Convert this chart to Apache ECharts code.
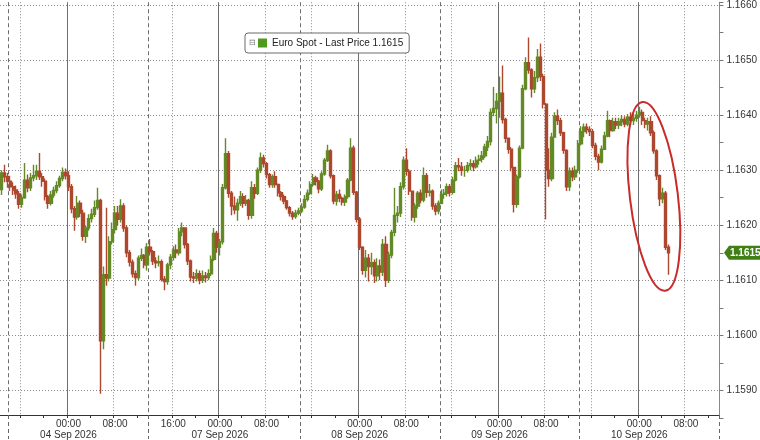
<!DOCTYPE html>
<html><head><meta charset="utf-8">
<script src="https://cdn.jsdelivr.net/npm/echarts@6/dist/echarts.min.js"></script>
<style>html,body{margin:0;padding:0;background:#fff}#c{width:760px;height:440px}</style>
</head><body><div id="c"></div>
<script>
const seriesName = 'Euro Spot - Last Price';
// trading sessions (30-minute bars), weekend gap removed
const sessions = [
  ['2026-09-03 12:30', '2026-09-04 13:30'],
  ['2026-09-06 12:00', '2026-09-10 13:30']
];
const tickLabels = ['2026-09-04 00:00','2026-09-04 08:00','2026-09-06 16:00','2026-09-07 00:00','2026-09-07 08:00',
  '2026-09-08 00:00','2026-09-08 08:00','2026-09-09 00:00','2026-09-09 08:00','2026-09-10 00:00','2026-09-10 08:00'];
const sessionMarks = ['2026-09-03 14:00','2026-09-06 12:00','2026-09-07 14:00','2026-09-08 14:00','2026-09-09 14:00'];
const monthNames = ['Jan','Feb','Mar','Apr','May','Jun','Jul','Aug','Sep','Oct','Nov','Dec'];
const firstOpen = 1.16265;
const closes = [
1.16295,1.16288,1.16280,1.16270,1.16264,1.16257,1.16238,1.16250,1.16282,1.16268,
1.16286,1.16290,1.16298,1.16288,1.16280,1.16252,1.16240,1.16255,1.16263,1.16272,
1.16285,1.16296,1.16290,1.16270,1.16230,1.16215,1.16240,1.16222,1.16180,1.16195,
1.16212,1.16220,1.16232,1.16245,1.15990,1.16110,1.16104,1.16170,1.16192,1.16222,
1.16211,1.16235,1.16195,1.16150,1.16133,1.16112,1.16105,1.16140,1.16145,1.16128,
1.16160,1.16152,1.16135,1.16132,1.16134,1.16102,1.16098,1.16128,1.16142,1.16155,
1.16150,1.16188,1.16195,1.16165,1.16135,1.16106,1.16104,1.16112,1.16100,1.16108,
1.16105,1.16112,1.16138,1.16185,1.16160,1.16170,1.16268,1.16330,1.16258,1.16235,
1.16228,1.16240,1.16252,1.16240,1.16245,1.16218,1.16268,1.16258,1.16300,1.16322,
1.16312,1.16292,1.16274,1.16288,1.16274,1.16259,1.16252,1.16244,1.16232,1.16222,
1.16216,1.16222,1.16226,1.16233,1.16247,1.16258,1.16274,1.16286,1.16280,1.16266,
1.16293,1.16318,1.16335,1.16290,1.16244,1.16256,1.16249,1.16242,1.16252,1.16282,
1.16340,1.16260,1.16211,1.16160,1.16118,1.16140,1.16125,1.16132,1.16108,1.16126,
1.16115,1.16165,1.16100,1.16146,1.16187,1.16218,1.16222,1.16270,1.16318,1.16298,
1.16262,1.16215,1.16235,1.16258,1.16246,1.16290,1.16260,1.16262,1.16235,1.16226,
1.16240,1.16256,1.16258,1.16270,1.16260,1.16282,1.16308,1.16306,1.16300,1.16300,
1.16308,1.16312,1.16306,1.16318,1.16320,1.16326,1.16342,1.16352,1.16405,1.16412,
1.16425,1.16440,1.16392,1.16358,1.16338,1.16305,1.16238,1.16288,1.16340,1.16448,
1.16495,1.16482,1.16448,1.16468,1.16505,1.16470,1.16420,1.16300,1.16285,1.16360,
1.16398,1.16390,1.16368,1.16336,1.16270,1.16298,1.16288,1.16300,1.16348,1.16370,
1.16378,1.16374,1.16370,1.16345,1.16325,1.16315,1.16338,1.16362,1.16390,1.16372,
1.16388,1.16382,1.16388,1.16392,1.16384,1.16396,1.16390,1.16394,1.16400,1.16405,
1.16390,1.16384,1.16388,1.16368,1.16335,1.16290,1.16248,1.16258,1.16160,1.16150
];
const highs = [
1.16300,1.16310,1.16295,1.16290,1.16278,1.16272,1.16262,1.16256,1.16313,1.16292,
1.16295,1.16310,1.16310,1.16331,1.16295,1.16285,1.16255,1.16262,1.16270,1.16280,
1.16290,1.16305,1.16303,1.16298,1.16275,1.16235,1.16253,1.16245,1.16228,1.16200,
1.16220,1.16230,1.16245,1.16268,1.16248,1.16125,1.16232,1.16180,1.16205,1.16235,
1.16235,1.16247,1.16240,1.16200,1.16155,1.16138,1.16118,1.16145,1.16158,1.16148,
1.16168,1.16175,1.16155,1.16142,1.16145,1.16138,1.16108,1.16132,1.16148,1.16162,
1.16165,1.16195,1.16205,1.16195,1.16168,1.16138,1.16115,1.16120,1.16118,1.16118,
1.16115,1.16120,1.16145,1.16195,1.16190,1.16175,1.16275,1.16358,1.16335,1.16262,
1.16252,1.16248,1.16262,1.16258,1.16255,1.16248,1.16280,1.16275,1.16305,1.16332,
1.16328,1.16315,1.16295,1.16292,1.16298,1.16276,1.16262,1.16256,1.16246,1.16235,
1.16226,1.16228,1.16232,1.16240,1.16255,1.16265,1.16280,1.16293,1.16290,1.16282,
1.16298,1.16322,1.16346,1.16338,1.16292,1.16262,1.16265,1.16252,1.16256,1.16286,
1.16358,1.16345,1.16262,1.16215,1.16162,1.16155,1.16148,1.16150,1.16138,1.16140,
1.16138,1.16175,1.16180,1.16152,1.16192,1.16268,1.16235,1.16278,1.16325,1.16340,
1.16302,1.16262,1.16240,1.16262,1.16265,1.16305,1.16295,1.16275,1.16265,1.16240,
1.16245,1.16265,1.16266,1.16276,1.16275,1.16288,1.16315,1.16322,1.16315,1.16308,
1.16315,1.16320,1.16318,1.16325,1.16328,1.16335,1.16348,1.16362,1.16412,1.16451,
1.16440,1.16470,1.16490,1.16395,1.16358,1.16342,1.16305,1.16292,1.16345,1.16455,
1.16505,1.16541,1.16485,1.16480,1.16520,1.16530,1.16475,1.16422,1.16340,1.16368,
1.16405,1.16410,1.16395,1.16370,1.16338,1.16305,1.16305,1.16308,1.16355,1.16380,
1.16385,1.16385,1.16380,1.16375,1.16350,1.16330,1.16345,1.16370,1.16408,1.16392,
1.16395,1.16395,1.16395,1.16400,1.16398,1.16402,1.16405,1.16402,1.16408,1.16415,
1.16410,1.16395,1.16395,1.16398,1.16372,1.16338,1.16292,1.16268,1.16262,1.16165
];
const lows = [
1.16255,1.16278,1.16268,1.16262,1.16255,1.16248,1.16230,1.16232,1.16248,1.16260,
1.16262,1.16280,1.16282,1.16282,1.16270,1.16245,1.16230,1.16236,1.16250,1.16258,
1.16268,1.16280,1.16283,1.16262,1.16222,1.16190,1.16210,1.16215,1.16172,1.16168,
1.16190,1.16205,1.16215,1.16228,1.15894,1.15975,1.16090,1.16098,1.16165,1.16185,
1.16200,1.16205,1.16188,1.16142,1.16125,1.16105,1.16090,1.16100,1.16135,1.16122,
1.16118,1.16145,1.16128,1.16122,1.16125,1.16098,1.16082,1.16092,1.16120,1.16136,
1.16140,1.16145,1.16180,1.16158,1.16128,1.16098,1.16095,1.16098,1.16093,1.16095,
1.16096,1.16100,1.16108,1.16135,1.16150,1.16145,1.16165,1.16265,1.16250,1.16218,
1.16220,1.16208,1.16235,1.16232,1.16235,1.16210,1.16212,1.16248,1.16255,1.16295,
1.16305,1.16285,1.16268,1.16268,1.16268,1.16252,1.16245,1.16238,1.16228,1.16216,
1.16210,1.16212,1.16218,1.16222,1.16230,1.16243,1.16255,1.16270,1.16272,1.16258,
1.16262,1.16290,1.16315,1.16285,1.16238,1.16236,1.16242,1.16236,1.16235,1.16248,
1.16280,1.16255,1.16205,1.16155,1.16110,1.16105,1.16098,1.16110,1.16095,1.16098,
1.16100,1.16108,1.16088,1.16095,1.16140,1.16180,1.16205,1.16215,1.16265,1.16290,
1.16255,1.16208,1.16205,1.16230,1.16240,1.16242,1.16250,1.16252,1.16228,1.16218,
1.16220,1.16238,1.16248,1.16252,1.16252,1.16256,1.16280,1.16298,1.16290,1.16288,
1.16296,1.16300,1.16298,1.16303,1.16310,1.16314,1.16322,1.16335,1.16345,1.16398,
1.16385,1.16395,1.16385,1.16350,1.16330,1.16298,1.16223,1.16232,1.16285,1.16338,
1.16445,1.16475,1.16432,1.16440,1.16460,1.16462,1.16412,1.16211,1.16270,1.16280,
1.16362,1.16382,1.16362,1.16330,1.16262,1.16262,1.16280,1.16282,1.16295,1.16345,
1.16360,1.16366,1.16362,1.16340,1.16318,1.16300,1.16312,1.16338,1.16360,1.16360,
1.16370,1.16375,1.16375,1.16380,1.16378,1.16380,1.16382,1.16382,1.16388,1.16395,
1.16382,1.16376,1.16372,1.16362,1.16330,1.16282,1.16235,1.16240,1.16155,1.16110
];
// annotation (red ellipse) anchored in data space
const ellipseCategory = '2026-09-10 02:30';
const ellipseTopPrice = 1.16425;
const ellipseBottomPrice = 1.16080;

function pad(n){return (n<10?'0':'')+n;}
function keyOf(t){const d=new Date(t);return d.getUTCFullYear()+'-'+pad(d.getUTCMonth()+1)+'-'+pad(d.getUTCDate())+' '+pad(d.getUTCHours())+':'+pad(d.getUTCMinutes());}
function parseKey(s){const p=s.split(' ');const a=p[0].split('-').map(Number);const b=p[1].split(':').map(Number);return Date.UTC(a[0],a[1]-1,a[2],b[0],b[1]);}
const categories=[];
sessions.forEach(function(s){
  const t0=parseKey(s[0]), t1=parseKey(s[1]);
  for(let t=t0;t<=t1;t+=1800000){ categories.push(keyOf(t)); }
});
const candles = closes.map(function(c,i){
  const o = i===0 ? firstOpen : closes[i-1];
  return [o, c, Math.min(lows[i],o,c), Math.max(highs[i],o,c)];
});
const lastClose = closes[closes.length-1];
const timeOf = v => v.slice(11);

const GREEN='#638a26', RED='#ad482e', TAG='#3f7f16';
const chart = echarts.init(document.getElementById('c'), null, {renderer:'canvas'});
const hiddenAxis = {type:'category', data:categories, boundaryGap:true, position:'bottom', offset:-3,
  axisLine:{show:false}, axisLabel:{show:false}};
chart.setOption({
  animation:false,
  backgroundColor:'#fff',
  textStyle:{fontFamily:'Liberation Sans, Arial, sans-serif'},
  grid:{left:0, right:37, top:0, bottom:19},
  legend:{
    left:245, top:33, padding:[5,6,5,13], itemWidth:9, itemHeight:9, itemGap:5,
    borderColor:'#6a6a6a', borderWidth:1, borderRadius:3, backgroundColor:'#fff',
    selectedMode:false,
    textStyle:{fontSize:10, color:'#222'},
    formatter: n => n + ' ' + lastClose.toFixed(4),
    data:[{name:seriesName, icon:'rect', itemStyle:{color:'#4f9a1c', borderWidth:0}}]
  },
  xAxis:[
    {type:'category', data:categories, boundaryGap:true, position:'bottom', offset:-3,
     axisLine:{onZero:false, lineStyle:{color:'#333', width:1}},
     axisTick:{show:true, length:3, interval:(i,v)=>{const t=timeOf(v);return t.slice(3)==='00' && (+t.slice(0,2))%4===0;}, lineStyle:{color:'#333'}},
     axisLabel:{show:true, interval:(i,v)=>tickLabels.indexOf(v)>=0,
       fontSize:10, color:'#333', margin:4, lineHeight:10.5,
       formatter:function(v){const t=timeOf(v); if(t!=='00:00') return t; return t+'\n'+v.slice(8,10)+' '+monthNames[+v.slice(5,7)-1]+' '+v.slice(0,4);}},
     splitLine:{show:true, interval:(i,v)=>{const t=timeOf(v);return t==='08:00'||t==='16:00';}, lineStyle:{color:'#8c8c8c', type:[1,2], width:1}}
    },
    Object.assign({}, hiddenAxis, {axisTick:{show:false},
      splitLine:{show:true, interval:(i,v)=>timeOf(v)==='00:00', lineStyle:{color:'#6e6e6e', type:'solid', width:1}}}),
    Object.assign({}, hiddenAxis, {
      axisTick:{show:true, length:24, interval:(i,v)=>sessionMarks.indexOf(v)>=0, lineStyle:{color:'#666', type:[4,3]}},
      splitLine:{show:true, interval:(i,v)=>sessionMarks.indexOf(v)>=0, lineStyle:{color:'#6e6e6e', type:[4,3], width:1}}})
  ],
  yAxis:[{
    type:'value', position:'right', min:1.1585, max:1.16605, interval:0.0005,
    axisLine:{show:true, lineStyle:{color:'#8a8a7a'}},
    axisTick:{show:true, length:4, lineStyle:{color:'#777'}},
    axisLabel:{fontSize:10, color:'#333', margin:7,
      formatter:v=>Math.round(v*10000)%10===0 ? v.toFixed(4) : ''},
    splitLine:{show:true, lineStyle:{color:['rgba(0,0,0,0)','#8c8c8c'], type:[1,2], width:1}}
  }],
  series:[{
    name:seriesName, type:'candlestick', xAxisIndex:0, yAxisIndex:0,
    data:candles, barWidth:'92%',
    itemStyle:{color:GREEN, color0:RED, borderColor:GREEN, borderColor0:RED, borderWidth:1.4}
  }]
});

// annotation shapes, positioned from data coordinates
const pTop = chart.convertToPixel({xAxisIndex:0, yAxisIndex:0}, [ellipseCategory, ellipseTopPrice]);
const pBot = chart.convertToPixel({xAxisIndex:0, yAxisIndex:0}, [ellipseCategory, ellipseBottomPrice]);
const tagY = chart.convertToPixel({yAxisIndex:0}, lastClose);
const axisX = chart.getWidth() - 37;
const W = chart.getWidth();
const tilt = 0.12;
const ry = (pBot[1]-pTop[1])/2;
chart.setOption({graphic:[
  {type:'text', left:249, top:39, style:{text:'⊟', fontSize:8, fill:'#777'}, z:110},
  {type:'polygon', shape:{points:[[axisX+1, tagY],[axisX+6, tagY-7],[W, tagY-7],[W, tagY+7],[axisX+6, tagY+7]]},
   style:{fill:TAG}, z:110},
  {type:'text', x:axisX+7, y:tagY, style:{text:lastClose.toFixed(4), fill:'#fff', fontSize:10, fontWeight:'bold',
   fontFamily:'Liberation Sans, Arial, sans-serif', verticalAlign:'middle', align:'left'}, z:111},
  {type:'ellipse', x:pTop[0], y:(pTop[1]+pBot[1])/2, rotation:tilt,
   shape:{cx:0, cy:0, rx:24, ry:ry}, style:{fill:'none', stroke:'#c92a2a', lineWidth:2}, z:100}
]});
</script>
</body></html>
